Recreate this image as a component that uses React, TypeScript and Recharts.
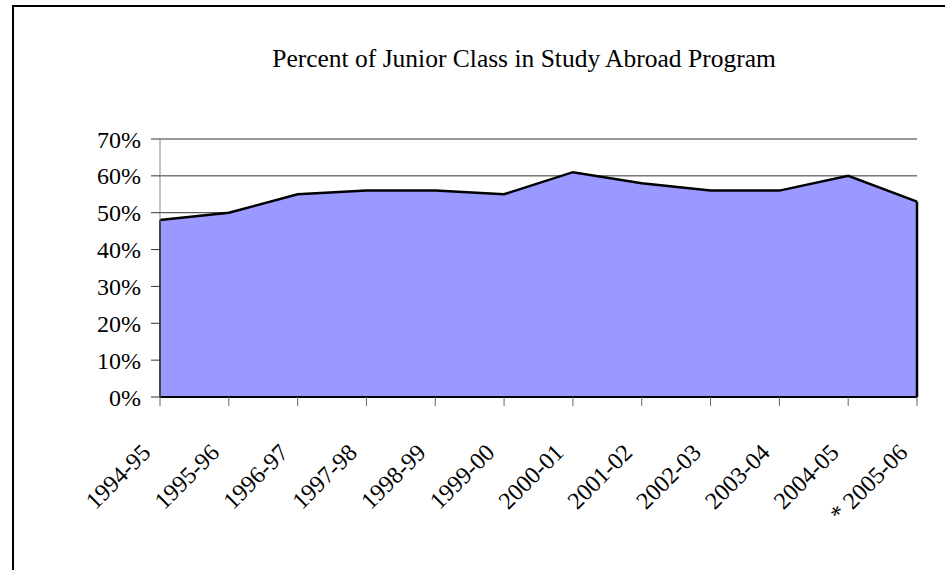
import { AreaChart, Area, XAxis, YAxis, CartesianGrid, ReferenceLine } from "recharts";

const years = [
  "1994-95", "1995-96", "1996-97", "1997-98", "1998-99", "1999-00",
  "2000-01", "2001-02", "2002-03", "2003-04", "2004-05", "* 2005-06",
];
const percent = [48, 50, 55, 56, 56, 55, 61, 58, 56, 56, 60, 53];
const yTicks = [0, 10, 20, 30, 40, 50, 60, 70];

const data = years.map((year, i) => ({ year, pct: percent[i] }));

const font = "'Liberation Serif', 'Times New Roman', serif";

function YearTick({ x, y, payload }: any) {
  return (
    <text
      x={0}
      y={0}
      transform={`translate(${x - 8},${y + 46}) rotate(-45)`}
      textAnchor="end"
      fontFamily={font}
      fontSize={24}
      fill="#000"
    >
      {payload.value}
    </text>
  );
}

export default function App() {
  const first = data[0];
  const last = data[data.length - 1];
  return (
    <div style={{ position: "fixed", left: 0, top: 0, width: 945, height: 570, overflow: "hidden", background: "#fff" }}>
      <div style={{ position: "absolute", left: 12, top: 5, width: 1100, height: 700, border: "2px solid #000" }} />
      <div
        style={{
          position: "absolute", left: 0, width: 1048, top: 44, textAlign: "center",
          fontFamily: font, fontSize: 25.5, color: "#000",
        }}
      >
        Percent of Junior Class in Study Abroad Program
      </div>
      <div style={{ position: "absolute", left: 0, top: 0 }}>
        <AreaChart width={945} height={570} data={data} margin={{ top: 139, right: 28, bottom: 83, left: 0 }}>
          <CartesianGrid vertical={false} stroke="#333" horizontalValues={[50, 60, 70]} />
          <XAxis
            dataKey="year"
            interval={0}
            height={90}
            tick={<YearTick />}
            tickLine={{ stroke: "#666" }}
            tickSize={9}
            axisLine={{ stroke: "#000", strokeWidth: 2 }}
          />
          <YAxis
            width={160}
            domain={[0, 70]}
            ticks={yTicks}
            interval={0}
            tickFormatter={(v: number) => `${v}%`}
            tick={{ fontFamily: font, fontSize: 24, fill: "#000", dx: -8 }}
            tickLine={{ stroke: "#333" }}
            tickSize={9}
            axisLine={{ stroke: "#888" }}
          />
          <Area
            type="linear"
            dataKey="pct"
            fill="#9999ff"
            fillOpacity={1}
            stroke="#000"
            strokeWidth={2.5}
            isAnimationActive={false}
          />
          <ReferenceLine segment={[{ x: first.year, y: 0 }, { x: first.year, y: first.pct }]} stroke="#000" strokeWidth={2} />
          <ReferenceLine segment={[{ x: last.year, y: 0 }, { x: last.year, y: last.pct }]} stroke="#000" strokeWidth={2.5} />
        </AreaChart>
      </div>
    </div>
  );
}
